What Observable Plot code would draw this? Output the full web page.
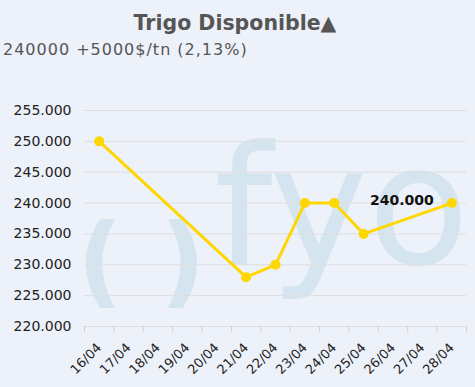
<!DOCTYPE html>
<html>
<head>
<meta charset="utf-8">
<script src="https://cdn.jsdelivr.net/npm/d3@7"></script>
<script src="https://cdn.jsdelivr.net/npm/@observablehq/plot@0.6"></script>
<style>
  html, body { margin: 0; padding: 0; background: #edf1f9; }
  body { width: 475px; height: 387px; position: relative; overflow: hidden; font-family: "DejaVu Sans", Verdana, sans-serif; }
  .title { position: absolute; left: 0; width: 470px; top: 13px; text-align: center; font-size: 20.5px; line-height: 1; font-weight: bold; color: #555; }
  .subtitle { position: absolute; left: 3px; top: 41.5px; font-size: 16px; letter-spacing: 1px; line-height: 1; color: #555; }
  .wm { position: absolute; color: #d5e5f0; line-height: 1; font-family: "DejaVu Sans", sans-serif; z-index: 0; }
  #chart { position: absolute; left: 0; top: 60px; z-index: 1; }
</style>
</head>
<body>
<div class="title">Trigo Disponible▲</div>
<div class="subtitle">240000 +5000$/tn (2,13%)</div>
<div class="wm" style="left:214px; top:124px; font-size:166px;">fyo</div>
<div class="wm" style="left:77px; top:211px; font-size:100px; font-weight:bold;">(</div>
<div class="wm" style="left:160px; top:211px; font-size:100px; font-weight:bold;">)</div>
<div id="chart"></div>
<script>
const dates = ["2023-04-16", "2023-04-21", "2023-04-22", "2023-04-23", "2023-04-24", "2023-04-25", "2023-04-28"];
const prices = [250000, 228000, 230000, 240000, 240000, 235000, 240000];
const dayLabels = ["16/04", "17/04", "18/04", "19/04", "20/04", "21/04", "22/04", "23/04", "24/04", "25/04", "26/04", "27/04", "28/04"];
const yTicks = [220000, 225000, 230000, 235000, 240000, 245000, 250000, 255000];

const HALF = 12 * 3600 * 1000;
const parseLabel = (s) => new Date(Date.UTC(2023, +s.slice(3, 5) - 1, +s.slice(0, 2)));
const days = dayLabels.map(parseLabel);
const labelOf = new Map(days.map((d, i) => [+d, dayLabels[i]]));
const bounds = days.map(d => new Date(+d - HALF)).concat([new Date(+days[days.length - 1] + HALF)]);

const data = dates.map((d, i) => ({date: new Date(d + "T00:00:00Z"), price: prices[i]}));
const last = data[data.length - 1];

const fmt = d3.formatLocale({decimal: ",", thousands: ".", grouping: [3], currency: ["$", ""]}).format(",d");
const gold = "#ffd700";

const chart = Plot.plot({
  width: 475,
  height: 327,
  marginTop: 50,
  marginBottom: 61,
  marginLeft: 84,
  marginRight: 9,
  style: {background: "transparent", fontFamily: "'DejaVu Sans', Verdana, sans-serif", color: "#333", overflow: "visible"},
  x: {type: "utc", domain: [bounds[0], bounds[bounds.length - 1]]},
  y: {domain: [yTicks[0], yTicks[yTicks.length - 1]]},
  marks: [
    Plot.gridY(yTicks, {stroke: "#dedede", strokeOpacity: 1}),
    Plot.axisY(yTicks, {tickSize: 0, tickPadding: 13, tickFormat: fmt, fontSize: 14, label: null, fill: "#222"}),
    Plot.axisX(bounds, {tickSize: 6, tickFormat: () => "", stroke: "#d0d0d0", label: null}),
    Plot.axisX(days, {tickSize: 0, tickPadding: 19, tickRotate: -45, tickFormat: d => labelOf.get(+d), fontSize: 13, label: null, fill: "#222"}),
    Plot.line(data, {x: "date", y: "price", stroke: gold, strokeWidth: 3}),
    Plot.dot(data, {x: "date", y: "price", r: 5, fill: gold, stroke: null}),
    Plot.text([last], {x: "date", y: "price", text: d => fmt(d.price), textAnchor: "end", dx: -18, dy: -3, fontWeight: "bold", fontSize: 14, fill: "#111"})
  ]
});
document.getElementById("chart").appendChild(chart);
</script>
</body>
</html>
